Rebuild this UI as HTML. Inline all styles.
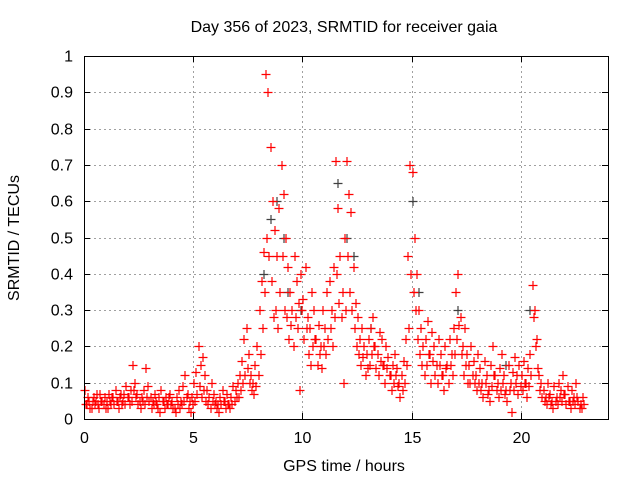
<!DOCTYPE html>
<html><head><meta charset="utf-8"><style>
body{margin:0;background:#fff;}
svg{display:block;font-family:"Liberation Sans",sans-serif;font-size:16px;}
</style></head><body>
<svg id="chart" width="640" height="480" viewBox="0 0 640 480">
<text x="344" y="32" text-anchor="middle">Day 356 of 2023, SRMTID for receiver gaia</text>
<text x="344" y="471" text-anchor="middle">GPS time / hours</text>
<text transform="translate(19,238) rotate(-90)" text-anchor="middle">SRMTID / TECUs</text>
<g id="grid"></g>
<g id="axes"></g>
<g id="marks"></g>
<rect x="84.5" y="56.5" width="524" height="363" fill="none" stroke="#000"/>
</svg>
<script>
const xTicks=[0,5,10,15,20];
const yTicks=[0,0.1,0.2,0.3,0.4,0.5,0.6,0.7,0.8,0.9,1];
const yTickLabels=["0","0.1","0.2","0.3","0.4","0.5","0.6","0.7","0.8","0.9","1"];
const hourStart=0, hourStep=0.1;
const redA=[0.08,0.04,0.05,0.03,0.06,0.05,0.04,0.07,0.05,0.06,
0.05,0.07,0.04,0.06,0.08,0.05,0.06,0.04,0.07,0.09,
0.06,0.08,0.15,0.1,0.07,0.05,0.06,0.08,0.14,0.09,
0.06,0.05,0.07,0.04,0.06,0.08,0.05,0.06,0.04,0.07,
0.05,0.03,0.06,0.08,0.05,0.09,0.12,0.07,0.05,0.06,
0.1,0.13,0.2,0.15,0.17,0.12,0.08,0.06,0.1,0.07,
0.05,0.04,0.06,0.08,0.05,0.07,0.04,0.06,0.09,0.08,
0.1,0.12,0.16,0.22,0.25,0.18,0.12,0.1,0.15,0.2,
0.3,0.38,0.46,0.95,0.9,0.75,0.6,0.52,0.45,0.58,
0.7,0.62,0.5,0.42,0.35,0.3,0.45,0.38,0.32,0.4,
0.33,0.42,0.28,0.25,0.35,0.3,0.22,0.26,0.2,0.3,
0.25,0.35,0.38,0.3,0.42,0.71,0.58,0.45,0.35,0.5,
0.71,0.62,0.57,0.42,0.32,0.28,0.22,0.25,0.2,0.18,
0.22,0.25,0.28,0.2,0.18,0.24,0.22,0.15,0.2,0.17,
0.12,0.15,0.18,0.14,0.1,0.12,0.16,0.22,0.45,0.7,
0.68,0.5,0.4,0.3,0.25,0.2,0.22,0.27,0.18,0.24,
0.2,0.15,0.22,0.18,0.12,0.2,0.15,0.22,0.18,0.25,
0.35,0.4,0.28,0.2,0.25,0.18,0.15,0.2,0.16,0.12,
0.18,0.14,0.1,0.16,0.12,0.08,0.15,0.2,0.12,0.1,
0.14,0.18,0.12,0.08,0.15,0.1,0.13,0.17,0.12,0.15,
0.12,0.16,0.1,0.14,0.18,0.37,0.3,0.22,0.12,0.1,
0.08,0.06,0.1,0.07,0.05,0.09,0.06,0.1,0.08,0.12,
0.07,0.09,0.05,0.08,0.06,0.1,0.05,0.04,0.06];
const redB=[0.04,0.06,0.03,0.05,0.04,0.07,0.03,0.05,0.04,0.03,
0.03,0.05,0.06,0.04,0.05,0.03,0.07,0.05,0.04,0.06,
0.04,0.05,0.08,0.06,0.04,0.03,0.05,0.04,0.06,0.05,
0.03,0.04,0.05,0.03,0.02,0.05,0.03,0.04,0.06,0.04,
0.03,0.02,0.04,0.03,0.04,0.05,0.06,0.03,0.02,0.04,
0.05,0.07,0.09,0.06,0.08,0.05,0.04,0.03,0.05,0.04,
0.03,0.02,0.04,0.05,0.03,0.04,0.03,0.04,0.05,0.06,
0.06,0.08,0.1,0.12,0.14,0.1,0.08,0.07,0.09,0.12,
0.18,0.25,0.35,0.5,0.45,0.38,0.28,0.3,0.25,0.35,
0.45,0.3,0.28,0.22,0.26,0.2,0.28,0.25,0.08,0.3,
0.22,0.25,0.18,0.15,0.2,0.22,0.15,0.18,0.14,0.2,
0.18,0.22,0.25,0.2,0.28,0.4,0.32,0.28,0.1,0.3,
0.45,0.35,0.3,0.25,0.2,0.18,0.15,0.17,0.12,0.14,
0.15,0.18,0.2,0.14,0.12,0.16,0.15,0.1,0.14,0.12,
0.08,0.1,0.12,0.09,0.06,0.08,0.1,0.15,0.25,0.4,
0.35,0.3,0.22,0.18,0.15,0.12,0.15,0.18,0.1,0.16,
0.12,0.1,0.15,0.12,0.08,0.14,0.1,0.15,0.12,0.18,
0.22,0.26,0.18,0.12,0.15,0.1,0.1,0.12,0.1,0.08,
0.1,0.08,0.06,0.1,0.07,0.05,0.09,0.12,0.08,0.06,
0.08,0.1,0.07,0.05,0.08,0.02,0.08,0.1,0.07,0.09,
0.08,0.1,0.06,0.09,0.12,0.28,0.2,0.14,0.08,0.06,
0.05,0.04,0.06,0.04,0.03,0.05,0.04,0.06,0.05,0.07,
0.04,0.05,0.03,0.05,0.04,0.06,0.03,0.03,0.04];
const grayHours=[8.2,8.5,8.8,9.1,9.3,9.9,11.6,12.0,12.3,13.1,15.0,15.3,17.1,19.3,20.4];
const grayValues=[0.4,0.55,0.6,0.5,0.35,0.3,0.65,0.5,0.45,0.25,0.6,0.35,0.3,0.15,0.3];

const NS="http://www.w3.org/2000/svg";
const L=84,R=608,T=56,B=419,XMAX=24;
const xs=h=>L+h/XMAX*(R-L);
const ys=v=>B-v*(B-T);
const grid=document.getElementById('grid'),axes=document.getElementById('axes'),marks=document.getElementById('marks');
function mk(tag,attrs,parent){const e=document.createElementNS(NS,tag);for(const k in attrs)e.setAttribute(k,attrs[k]);parent.appendChild(e);return e;}
yTicks.forEach((v,i)=>{
  const y=Math.round(ys(v))+0.5;
  if(i>0&&i<yTicks.length-1){const g=mk('line',{x1:L,x2:R,y1:y,y2:y,stroke:'#a0a0a0','stroke-dasharray':'2,3'},grid);
  
  }
  mk('line',{x1:L,x2:L+6,y1:y,y2:y,stroke:'#000'},axes);
  mk('line',{x1:R-6,x2:R,y1:y,y2:y,stroke:'#000'},axes);
  const t=mk('text',{x:L-11,y:y+5,'text-anchor':'end'},axes);t.textContent=yTickLabels[i];
  
  
});
xTicks.forEach(h=>{
  const x=Math.round(xs(h))+0.5;
  if(h>0){const g=mk('line',{x1:x,x2:x,y1:T,y2:B,stroke:'#a0a0a0','stroke-dasharray':'2,3'},grid);
  
  }
  mk('line',{x1:x,x2:x,y1:B,y2:B-6,stroke:'#000'},axes);
  mk('line',{x1:x,x2:x,y1:T,y2:T+6,stroke:'#000'},axes);
  const t=mk('text',{x:x,y:B+24,'text-anchor':'middle'},axes);t.textContent=String(h);
  
  
});
function plus(h,v,color,name){
  const x=Math.round(xs(h))+0.5,y=Math.round(ys(v))+0.5;
  const p=mk('path',{d:`M${x-4},${y}h9M${x+0.5},${y-4.5}v9`,stroke:color,'stroke-width':1.2,fill:'none'},marks);
  
  
}
grayHours.forEach((h,i)=>plus(h,grayValues[i],'#404040','gray-point'));
redA.forEach((v,i)=>plus(hourStart+i*hourStep,v,'#ff0000','red-point'));
redB.forEach((v,i)=>plus(hourStart+i*hourStep+0.05,v,'#ff0000','red-point'));
</script>
</body></html>
